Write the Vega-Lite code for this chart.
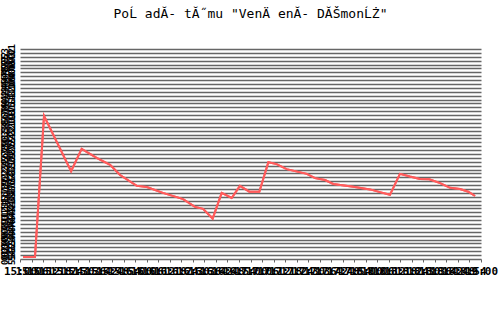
{
  "$schema": "https://vega.github.io/schema/vega-lite/v6.json",
  "width": 461,
  "height": 210,
  "autosize": "none",
  "padding": {"left": 20, "top": 49, "right": 19, "bottom": 50},
  "background": "white",
  "title": {
    "text": "PoĹ adĂ- tĂ˝mu \"VenÄ enĂ- DĂŠmonĹŻ\"",
    "font": "DejaVu Sans Mono",
    "fontSize": 13,
    "fontWeight": "normal",
    "color": "black",
    "anchor": "middle",
    "frame": "group",
    "offset": 23
  },
  "config": {"view": {"stroke": null}},
  "data": {
    "values": [
      {"min": 1.6, "rank": 53.5},
      {"min": 7.8, "rank": 53.5},
      {"min": 12.5, "rank": 17.2},
      {"min": 26.6, "rank": 31.4},
      {"min": 32.1, "rank": 25.7},
      {"min": 39.9, "rank": 28.0},
      {"min": 46.9, "rank": 29.8},
      {"min": 52.1, "rank": 32.4},
      {"min": 60.8, "rank": 35.2},
      {"min": 66.0, "rank": 35.5},
      {"min": 74.4, "rank": 37.0},
      {"min": 84.9, "rank": 38.6},
      {"min": 91.1, "rank": 40.6},
      {"min": 95.3, "rank": 41.1},
      {"min": 100.3, "rank": 43.6},
      {"min": 105.0, "rank": 37.0},
      {"min": 110.2, "rank": 38.3},
      {"min": 114.5, "rank": 35.2},
      {"min": 119.4, "rank": 36.7},
      {"min": 124.6, "rank": 36.7},
      {"min": 129.3, "rank": 29.1},
      {"min": 133.6, "rank": 29.6},
      {"min": 138.8, "rank": 30.9},
      {"min": 149.3, "rank": 32.1},
      {"min": 153.6, "rank": 33.2},
      {"min": 158.8, "rank": 33.7},
      {"min": 163.1, "rank": 34.7},
      {"min": 173.5, "rank": 35.4},
      {"min": 182.2, "rank": 36.1},
      {"min": 187.4, "rank": 36.8},
      {"min": 192.6, "rank": 37.5},
      {"min": 197.8, "rank": 32.1},
      {"min": 203.0, "rank": 32.8},
      {"min": 208.2, "rank": 33.4},
      {"min": 213.1, "rank": 33.5},
      {"min": 218.7, "rank": 34.5},
      {"min": 223.9, "rank": 35.7},
      {"min": 229.1, "rank": 36.0},
      {"min": 233.4, "rank": 36.7},
      {"min": 236.9, "rank": 37.8}
    ]
  },
  "encoding": {
    "x": {
      "field": "min",
      "type": "quantitative",
      "scale": {"domain": [0, 240], "nice": false, "zero": false},
      "axis": {
        "title": null,
        "values": [0,6,12,18,24,30,36,42,48,54,60,66,72,78,84,90,96,102,108,114,120,126,132,138,144,150,156,162,168,174,180,186,192,198,204,210,216,222,228,234,240],
        "labelExpr": "format(floor((datum.value+900)/60),'02d')+':'+format((datum.value+900)%60,'02d')",
        "labelOverlap": false,
        "labelFont": "DejaVu Sans Mono",
        "labelFontSize": 11,
        "labelFontWeight": "bold",
        "labelColor": "black",
        "labelPadding": 3,
        "labelFlush": false,
        "domain": false,
        "grid": false,
        "ticks": true,
        "tickColor": "#666666",
        "tickSize": 3
      }
    },
    "y": {
      "field": "rank",
      "type": "quantitative",
      "scale": {"domain": [0, 54], "reverse": true, "nice": false, "zero": false}
    }
  },
  "layer": [
    {
      "mark": {"type": "line", "color": "#ff5c5c", "strokeWidth": 2, "clip": true},
      "encoding": {
        "y": {
          "field": "rank",
          "type": "quantitative",
          "axis": {
            "title": null,
            "orient": "left",
            "values": [0,1,2,3,4,5,6,7,8,9,10,11,12,13,14,15,16,17,18,19,20,21,22,23,24,25,26,27,28,29,30,31,32,33,34,35,36,37,38,39,40,41,42,43,44,45,46,47,48,49,50,51,52,53,54],
            "labelExpr": "format(datum.value+1,'02d')",
            "labelAngle": -90,
            "labelAlign": "center",
            "labelBaseline": "bottom",
            "labelOverlap": false,
            "labelFont": "DejaVu Sans Mono",
            "labelFontSize": 9,
            "labelFontWeight": "bold",
            "labelColor": "black",
            "labelPadding": 4,
            "domain": false,
            "ticks": false,
            "grid": true,
            "gridColor": "#666666",
            "gridWidth": 1.5
          }
        }
      }
    },
    {
      "mark": {"type": "line", "color": "#ff5c5c", "strokeWidth": 2, "clip": true},
      "encoding": {
        "y": {
          "field": "rank",
          "type": "quantitative",
          "axis": {
            "title": null,
            "orient": "left",
            "offset": 7,
            "values": [1,2,3,4,5,6,7,8,9,10,11,12,13,14,15,16,17,18,19,20,21,22,23,24,25,26,27,28,29,30,31,32,33,34,35,36,37,38,39,40,41,42,43,44,45,46,47,48,49,50,51,52,53,54],
            "labelExpr": "format(54-datum.value,'02d')",
            "labelAngle": -90,
            "labelAlign": "center",
            "labelBaseline": "bottom",
            "labelOverlap": false,
            "labelFont": "DejaVu Sans Mono",
            "labelFontSize": 9,
            "labelFontWeight": "bold",
            "labelColor": "black",
            "labelPadding": 4,
            "domain": false,
            "ticks": false,
            "grid": false
          }
        }
      }
    }
  ],
  "resolve": {"axis": {"y": "independent"}}
}
